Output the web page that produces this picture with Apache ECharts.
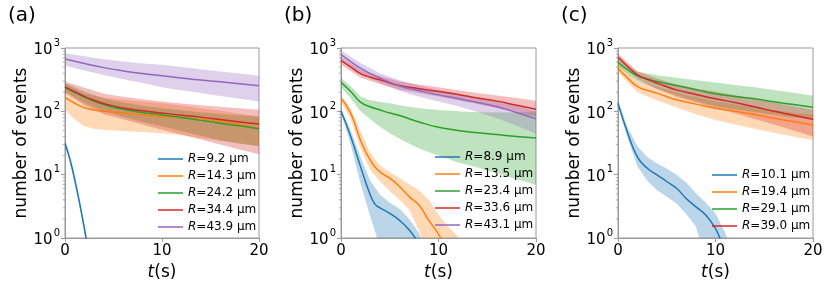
<!DOCTYPE html>
<html><head><meta charset="utf-8">
<script src="https://cdn.jsdelivr.net/npm/echarts@6/dist/echarts.min.js"></script>
<style>html,body{margin:0;padding:0;background:#fff}#c{width:830px;height:297px}</style>
</head><body><div id="c"></div>
<script>
// ---------- DATA (t in s, number of events) ----------
const xTicks = [0, 10, 20];
const yTicks = [1, 10, 100, 1000];
const minorYTicks = [2,3,4,5,6,7,8,9,20,30,40,50,60,70,80,90,200,300,400,500,600,700,800,900];

const tGrid = [0, 1, 2, 3, 4, 5, 6, 8, 10, 12, 14, 16, 18, 20];
const tBand = [0, 2, 4, 6, 8, 10, 12, 14, 16, 18, 20];

// panel (a)
const aNames = ['9.2', '14.3', '24.2', '34.4', '43.9'];
const a1_t = [0, 0.4, 0.8, 1.2, 1.6, 2.0, 2.4];
const a1_mean = [31, 20, 11.5, 6, 3, 1.4, 0.6];
const a1_up = [35, 23, 13.3, 7, 3.5, 1.65, 0.72];
const a1_lo = [27, 17.5, 10, 5.2, 2.6, 1.2, 0.5];
const a2_t = [0, 1, 2, 3, 4, 6, 8, 10, 12, 14, 16, 18, 20];
const a2_mean = [166, 134, 114, 105, 100, 94, 88, 83, 79, 74, 69, 62, 53];
const a2_ut = [0, 1, 2, 4, 6, 8, 10, 12, 14, 16, 18, 20];
const a2_up = [277, 230, 190, 165, 152, 142, 134, 124, 112, 102, 92, 83];
const a2_lt = [0, 1, 2, 3, 4, 6, 8, 10, 12, 14, 16, 18, 20];
const a2_lo = [105, 75, 58, 53, 51, 49, 47, 45, 42, 38, 34, 31, 28];
const a3_mean = [240, 200, 168, 145, 128, 116, 108, 96, 88, 80, 72, 65, 59, 53];
const a3_up = [280, 205, 160, 138, 122, 112, 104, 97, 91, 87, 83];
const a3_lo = [205, 135, 100, 82, 68, 58, 49, 41, 35, 31, 28];
const a4_mean = [241, 205, 172, 150, 133, 122, 113, 102, 94, 87, 81, 74, 68, 63];
const a4_up = [297, 235, 190, 170, 155, 143, 133, 125, 118, 112, 106];
const a4_lo = [194, 125, 90, 75, 62, 51, 43, 36, 30, 25, 21];
const a5_t = [0, 2, 4, 6, 8, 10, 12, 14, 16, 18, 20];
const a5_mean = [670, 570, 490, 435, 395, 365, 335, 312, 292, 272, 253];
const a5_up = [830, 740, 665, 610, 570, 545, 500, 460, 425, 395, 365];
const a5_lo = [525, 440, 375, 320, 280, 240, 215, 195, 175, 158, 143];

// panel (b)
const bNames = ['8.9', '13.5', '23.4', '33.6', '43.1'];
const b1_t = [0, 1, 2, 3, 3.5, 4, 5, 6, 7, 7.8];
const b1_mean = [101, 40, 13.4, 4.8, 3.4, 3.0, 2.45, 1.9, 1.34, 0.9];
const b1_ut = [0, 1, 2, 3, 4, 5, 6, 7, 8, 8.3];
const b1_up = [112, 50, 19, 8, 4.8, 3.6, 2.9, 2, 1.2, 0.9];
const b1_lt = [0, 1, 2, 3, 3.7, 4];
const b1_lo = [93, 30, 7.3, 2.2, 1, 0.7];
const b2_t = [0, 1, 2, 3, 4, 5, 6, 7, 8, 9, 10, 10.5];
const b2_mean = [161, 93, 35, 17, 11, 8.8, 6.5, 4.5, 3.3, 1.9, 1.15, 0.8];
const b2_ut = [0, 1, 2, 3, 4, 5, 6, 7, 8, 9, 10, 11, 12, 12.5];
const b2_up = [181, 110, 48, 22, 14, 11, 8.8, 7, 5.7, 4, 2.3, 1.5, 1.05, 0.85];
const b2_lt = [0, 1, 2, 3, 4, 5, 6, 7, 8, 8.5];
const b2_lo = [143, 75, 26, 12, 7.8, 5.5, 4, 2.8, 1.3, 0.8];
const b3_t = [0, 1, 2, 3, 4, 5, 6, 8, 10, 12, 14, 16, 18, 20];
const b3_mean = [286, 205, 140, 118, 105, 94, 86, 68, 56, 50, 46, 43, 40, 38];
const b3_up = [335, 250, 172, 150, 140, 134, 125, 112, 105, 100, 97, 96, 97, 99];
const b3_lo = [240, 160, 100, 75, 57, 45, 37, 26, 20, 15.5, 13, 10.5, 8.5, 6.9];
const b4_t = [0, 1, 2, 3, 4, 6, 8, 10, 12, 14, 16, 18, 20];
const b4_mean = [635, 500, 395, 345, 315, 255, 228, 205, 185, 162, 145, 125, 108];
const b4_up = [720, 455, 360, 295, 265, 240, 215, 195, 178, 162, 147];
const b4_lo = [545, 340, 270, 220, 195, 172, 150, 130, 113, 97, 83];
const b5_t = [0, 1, 2, 3, 4, 6, 8, 10, 12, 14, 16, 18, 20];
const b5_mean = [783, 610, 480, 395, 335, 252, 212, 182, 160, 138, 118, 96, 76];
const b5_up = [915, 580, 400, 310, 255, 218, 190, 165, 145, 122, 100];
const b5_lo = [670, 400, 280, 210, 170, 143, 120, 98, 78, 60, 44];

// panel (c)
const cNames = ['10.1', '19.4', '29.1', '39.0'];
const c1_t = [0, 1, 2, 3, 4, 5, 6, 7, 8, 9, 10, 10.6];
const c1_mean = [134, 45, 19, 12.6, 9.9, 7.8, 6.1, 4.2, 3.1, 2.3, 1.4, 0.85];
const c1_ut = [0, 1, 2, 3, 4, 5, 6, 7, 8, 9, 10, 11, 11.5];
const c1_up = [148, 55, 28, 19, 15, 12.5, 10, 7.5, 5.1, 3.6, 2.45, 1.2, 0.8];
const c1_lt = [0, 1, 2, 3, 4, 5, 6, 7, 8, 8.5];
const c1_lo = [122, 37, 13.4, 8, 5.7, 4.5, 3.5, 2.4, 1.5, 0.8];
const c_t = [0, 1, 2, 3, 4, 6, 8, 10, 12, 14, 16, 18, 20];
const c2_mean = [480, 335, 246, 215, 194, 152, 130, 112, 100, 89, 78, 69, 61];
const c2_up = [575, 300, 240, 195, 165, 143, 128, 115, 104, 95, 88];
const c2_lo = [410, 200, 150, 115, 90, 73, 62, 53, 46, 40, 35];
const c3_mean = [590, 450, 364, 325, 295, 255, 220, 189, 172, 158, 142, 128, 116];
const c3_up = [690, 420, 370, 340, 310, 286, 260, 240, 218, 196, 176];
const c3_lo = [510, 300, 230, 180, 145, 120, 108, 98, 88, 80, 73];
const c4_mean = [720, 510, 378, 320, 279, 218, 185, 158, 138, 118, 100, 87, 75];
const c4_up = [810, 430, 330, 265, 230, 205, 180, 158, 138, 120, 106];
const c4_lo = [615, 320, 225, 170, 138, 112, 93, 76, 62, 50, 40];

// ---------- BUILD ----------
const COLORS = ['#1f77b4', '#ff7f0e', '#2ca02c', '#d62728', '#9467bd'];
const FONT = 'DejaVu Sans';
const zip = (t, v) => t.map((x, i) => [x, v[i]]);

const panels = [
  { label: '(a)', names: aNames, left: 65, width: 194, legendLeft: 158, legendTop: 152, series: [
    { t: a1_t, m: a1_mean, ut: a1_t, u: a1_up, lt: a1_t, l: a1_lo },
    { t: a2_t, m: a2_mean, ut: a2_ut, u: a2_up, lt: a2_lt, l: a2_lo },
    { t: tGrid, m: a3_mean, ut: tBand, u: a3_up, lt: tBand, l: a3_lo },
    { t: tGrid, m: a4_mean, ut: tBand, u: a4_up, lt: tBand, l: a4_lo },
    { t: a5_t, m: a5_mean, ut: a5_t, u: a5_up, lt: a5_t, l: a5_lo } ] },
  { label: '(b)', names: bNames, left: 341, width: 195, legendLeft: 435, legendTop: 150, series: [
    { t: b1_t, m: b1_mean, ut: b1_ut, u: b1_up, lt: b1_lt, l: b1_lo },
    { t: b2_t, m: b2_mean, ut: b2_ut, u: b2_up, lt: b2_lt, l: b2_lo },
    { t: b3_t, m: b3_mean, ut: b3_t, u: b3_up, lt: b3_t, l: b3_lo },
    { t: b4_t, m: b4_mean, ut: tBand, u: b4_up, lt: tBand, l: b4_lo },
    { t: b5_t, m: b5_mean, ut: tBand, u: b5_up, lt: tBand, l: b5_lo } ] },
  { label: '(c)', names: cNames, left: 618, width: 195, legendLeft: 712, legendTop: 168, series: [
    { t: c1_t, m: c1_mean, ut: c1_ut, u: c1_up, lt: c1_lt, l: c1_lo },
    { t: c_t, m: c2_mean, ut: tBand, u: c2_up, lt: tBand, l: c2_lo },
    { t: c_t, m: c3_mean, ut: tBand, u: c3_up, lt: tBand, l: c3_lo },
    { t: c_t, m: c4_mean, ut: tBand, u: c4_up, lt: tBand, l: c4_lo } ] }
];

const grid = [], xAxis = [], yAxis = [], series = [], legend = [], graphic = [];
const GREY = '#9a9a9a';
panels.forEach((p, pi) => {
  grid.push({ left: p.left, top: 48, width: p.width, height: 190, show: true, borderColor: GREY, borderWidth: 1, backgroundColor: 'transparent' });
  xAxis.push({ type: 'value', gridIndex: pi, min: xTicks[0], max: xTicks[xTicks.length - 1], interval: 10,
    axisLine: { lineStyle: { color: GREY } }, axisTick: { length: 4, lineStyle: { color: GREY } }, splitLine: { show: false },
    axisLabel: { color: '#000', fontSize: 15, fontFamily: FONT, margin: 6 },
    name: '{i|t}(s)', nameLocation: 'middle', nameGap: 24,
    nameTextStyle: { color: '#000', fontSize: 17, fontFamily: FONT, rich: { i: { fontStyle: 'italic', fontSize: 17, fontFamily: FONT, color: '#000' } } } });
  yAxis.push({ type: 'log', logBase: 10, gridIndex: pi, min: yTicks[0], max: yTicks[yTicks.length - 1],
    axisLine: { show: true, lineStyle: { color: GREY } }, axisTick: { show: true, length: 4, lineStyle: { color: GREY } }, splitLine: { show: false },
    axisLabel: { color: '#000', fontFamily: FONT, margin: 5,
      formatter: v => '{b|10}{s|' + Math.round(Math.log10(v)) + '}',
      rich: { b: { fontSize: 15, fontFamily: FONT, color: '#000', lineHeight: 20, verticalAlign: 'bottom' },
              s: { fontSize: 10, fontFamily: FONT, color: '#000', lineHeight: 20, verticalAlign: 'top', padding: [0, 0, 0, 1] } } },
    name: 'number of events', nameLocation: 'middle', nameGap: 33, nameRotate: 90,
    nameTextStyle: { color: '#000', fontSize: 17, fontFamily: FONT } });

  const legendData = [];
  p.series.forEach((s, si) => {
    const color = COLORS[si];
    const up = zip(s.ut, s.u), lo = zip(s.lt, s.l);
    series.push({ type: 'custom', xAxisIndex: pi, yAxisIndex: pi, z: 1, silent: true,
      data: [0],
      renderItem: (params, api) => {
        const pts = up.map(d => api.coord(d)).concat(lo.slice().reverse().map(d => api.coord(d)));
        const cs = params.coordSys;
        return { type: 'group',
          clipPath: { type: 'rect', shape: { x: cs.x, y: cs.y, width: cs.width, height: cs.height } },
          children: [{ type: 'polygon', shape: { points: pts }, style: { fill: color, opacity: 0.3 } }] };
      } });
    const name = 'R=' + p.names[si] + ' μm';
    legendData.push(name);
    series.push({ type: 'line', name, xAxisIndex: pi, yAxisIndex: pi, z: 3, data: zip(s.t, s.m),
      showSymbol: false, symbol: 'none', smooth: 0.5, clip: true,
      lineStyle: { color, width: 1.5, join: 'round' }, itemStyle: { color } });
  });
  // minor log ticks
  series.push({ type: 'custom', xAxisIndex: pi, yAxisIndex: pi, z: 4, silent: true, clip: false,
    data: minorYTicks.map(v => [xTicks[0], v]),
    renderItem: (params, api) => {
      const c = api.coord([api.value(0), api.value(1)]);
      return { type: 'line', shape: { x1: c[0] - 2.2, y1: c[1], x2: c[0], y2: c[1] }, style: { stroke: GREY, lineWidth: 0.8 } };
    } });
  legend.push({ data: legendData, orient: 'vertical', left: p.legendLeft, top: p.legendTop,
    icon: 'rect', itemWidth: 25, itemHeight: 1.5, itemGap: 3, padding: 0, selectedMode: false,
    formatter: n => '{i|R}' + n.slice(1),
    textStyle: { fontSize: 12, lineHeight: 14, fontFamily: FONT, color: '#000',
      rich: { i: { fontStyle: 'italic', fontSize: 12, fontFamily: FONT, color: '#000', lineHeight: 14 } } } });
  graphic.push({ type: 'text', left: p.left - 57, top: 6, style: { text: p.label, fontSize: 20, fontFamily: FONT, fill: '#000' } });
});

const chart = echarts.init(document.getElementById('c'), null, { renderer: 'canvas' });
chart.setOption({ animation: false, backgroundColor: '#fff', grid, xAxis, yAxis, series, legend, graphic });
</script></body></html>
